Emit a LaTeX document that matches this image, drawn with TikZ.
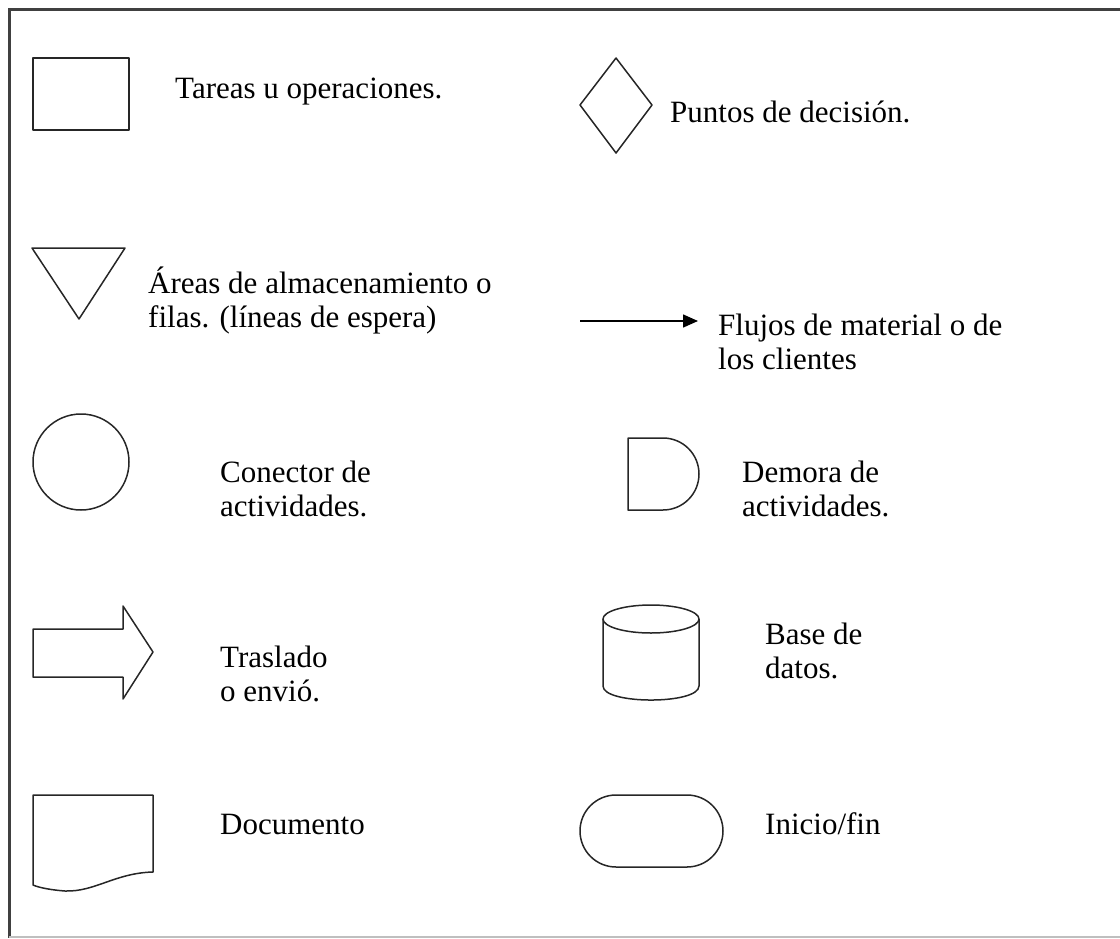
\documentclass[tikz,border=0pt]{standalone}
\usepackage{fontspec}
\setmainfont{Liberation Serif}
\usetikzlibrary{arrows.meta}
\tikzset{
  shp/.style={draw=black!85, line width=1.5pt, line join=round},
  lbl/.style={font=\fontsize{31}{34}\selectfont, align=left, inner sep=0pt, anchor=base west, text=black},
  frame/.style={draw=black!75, line width=3pt},
}
\begin{document}
\begin{tikzpicture}[x=1pt,y=-1pt]
\useasboundingbox (0,0) rectangle (1120,938);
% frame
\draw[frame] (1120,9) -- (9,9) -- (9,938);
\draw[draw=black!25, line width=2pt] (9,937) -- (1120,937);

% row 1
\draw[shp] (33,58) rectangle (129,130);
\node[lbl] (t1) at (175,98) {Tareas u operaciones.};
\draw[shp] (616,58) -- (652,105) -- (616,153) -- (580,105) -- cycle;
\node[lbl] (t2) at (670,122) {Puntos de decisión.};

% row 2 (base anchor = last line baseline)
\draw[shp] (32,248) -- (125,248) -- (79,319) -- cycle;
\node[lbl] (t3) at (148,327) {Áreas de almacenamiento o\\filas. (líneas de espera)};
\coordinate (a1) at (580,321);
\coordinate (a2) at (698,321);
\draw[black, line width=1.5pt, -{Triangle[length=15pt,width=13pt]}] (a1) -- (a2);
\node[lbl] (t4) at (718,369) {Flujos de material o de\\los clientes};

% row 3
\draw[shp] (81,462) circle[radius=48pt];
\node[lbl] (t5) at (220,516) {Conector de\\actividades.};
\draw[shp] (628,438) -- (663,438) .. controls (682.9,438) and (699,454.1) .. (699,474)
  .. controls (699,493.9) and (682.9,510) .. (663,510) -- (628,510) -- cycle;
\node[lbl] (t6) at (742,516) {Demora de\\actividades.};

% row 4
\draw[shp] (33,629) -- (123,629) -- (123,606) -- (153,652) -- (123,699) -- (123,677) -- (33,677) -- cycle;
\node[lbl] (t7) at (220,701) {Traslado\\o envió.};
\draw[shp] (651,619) ellipse[x radius=48pt, y radius=14pt];
\draw[shp] (603,619) -- (603,686) .. controls (603,704.7) and (699,704.7) .. (699,686) -- (699,619);
\node[lbl] (t8) at (765,678) {Base de\\datos.};

% row 5
\draw[shp] (33,795) -- (153,795) -- (153,872) .. controls (115,873) and (95,892) .. (65,891)
  .. controls (52,890) and (40,888) .. (33,885) -- cycle;
\node[lbl] (t9) at (220,834) {Documento};
\draw[shp, rounded corners=36pt] (580,795) rectangle (723,867);
\node[lbl] (t10) at (765,834) {Inicio/fin};
\end{tikzpicture}
\end{document}
